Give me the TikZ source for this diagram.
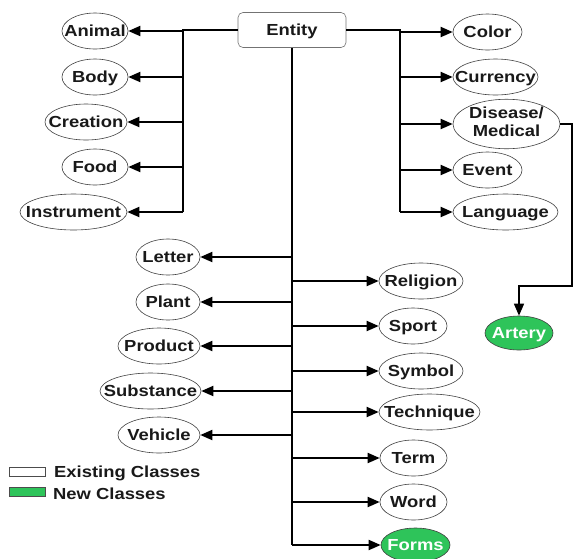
\documentclass[tikz,border=0pt]{standalone}
\usepackage{fontspec}
\setmainfont{Liberation Sans}[FakeStretch=1.15]
\usetikzlibrary{shapes.geometric,arrows.meta}
\definecolor{newgreen}{RGB}{46,196,90}
\newcommand\zt[1]{\makebox[0pt]{#1}}
\begin{document}
\begin{tikzpicture}[x=1pt,y=-1pt,
  ell/.style={ellipse, draw=black!75, line width=0.6pt, fill=white, inner sep=0pt, minimum height=36pt, font=\fontsize{16}{17}\selectfont\bfseries, text=black!90, text height=11.5pt, text depth=0pt},
  newell/.style={ell, fill=newgreen, text=white},
  conn/.style={line width=1.8pt, black},
  arr/.style={conn, -{Triangle[length=12pt,width=10pt]}},
  lbl/.style={font=\fontsize{16}{17}\selectfont\bfseries, text=black!90, anchor=west, inner sep=0pt}]
\useasboundingbox (0,0) rectangle (574,558);
% root
\node[draw=black!55, line width=0.6pt, rounded corners=5pt, minimum width=108pt, minimum height=35pt, inner sep=0pt, font=\fontsize{16}{17}\selectfont\bfseries, text=black!90, text height=11.5pt, text depth=0pt] (entity) at (292,30) {Entity};
% top left
\node[ell, minimum width=66pt] (animal) at (95,31) {\zt{Animal}};
\node[ell, minimum width=66pt] (body) at (95,77) {\zt{Body}};
\node[ell, minimum width=82pt] (creation) at (86,122) {\zt{Creation}};
\node[ell, minimum width=66pt] (food) at (95,167) {\zt{Food}};
\node[ell, minimum width=107pt] (instrument) at (73.5,212) {\zt{Instrument}};
% top right
\node[ell, minimum width=69pt] (color) at (487.5,32) {\zt{Color}};
\node[ell, minimum width=85pt] (currency) at (495.5,77) {\zt{Currency}};
\node[ell, minimum width=107pt, minimum height=48pt, text height=, text depth=] (disease) at (506.5,124) {\zt{\begin{tabular}{@{}c@{}}Disease/\\[1pt]Medical\end{tabular}}};
\node[ell, minimum width=69pt] (event) at (487.5,170) {\zt{Event}};
\node[ell, minimum width=105pt] (language) at (505.5,212) {\zt{Language}};
% lower left
\node[ell, minimum width=64pt] (letter) at (168,257) {\zt{Letter}};
\node[ell, minimum width=64pt] (plant) at (168,302) {\zt{Plant}};
\node[ell, minimum width=82pt] (product) at (159,346) {\zt{Product}};
\node[ell, minimum width=101pt] (substance) at (150.5,391) {\zt{Substance}};
\node[ell, minimum width=82pt] (vehicle) at (159,435) {\zt{Vehicle}};
% lower right
\node[ell, minimum width=84pt] (religion) at (421,281) {\zt{Religion}};
\node[ell, minimum width=68pt] (sport) at (413,326) {\zt{Sport}};
\node[ell, minimum width=84pt] (symbol) at (421,371) {\zt{Symbol}};
\node[ell, minimum width=101pt] (technique) at (429.5,412) {\zt{Technique}};
\node[ell, minimum width=67pt] (term) at (413.5,458) {\zt{Term}};
\node[ell, minimum width=67pt] (word) at (413.5,502) {\zt{Word}};
\node[newell, minimum width=69pt, minimum height=34pt] (forms) at (415.5,545) {\zt{Forms}};
\node[newell, minimum width=68pt, minimum height=34pt] (artery) at (519,333) {\zt{Artery}};
% buses
\coordinate (lb) at (183,30);
\coordinate (lbe) at (183,212);
\coordinate (rb) at (400,30);
\coordinate (rbe) at (400,212);
\coordinate (tb) at (292,545);
\draw[conn] (entity.west) -- (lb) -- (lbe);
\draw[conn] (entity.east) -- (rb) -- (rbe);
\draw[conn] (entity.south) -- (tb);
\foreach \n in {animal,body,creation,food,instrument}
  \draw[arr] (lb |- \n) -- (\n.east);
\foreach \n in {color,currency,disease,event,language}
  \draw[arr] (rb |- \n) -- (\n.west);
\foreach \n in {letter,plant,product,substance,vehicle}
  \draw[arr] (tb |- \n) -- (\n.east);
\foreach \n in {religion,sport,symbol,technique,term,word,forms}
  \draw[arr] (tb |- \n) -- (\n.west);
% disease -> artery
\coordinate (dc) at (572,286);
\draw[arr, line width=1.4pt] (disease.east) -| (dc) -| (artery.north);
% legend
\node[draw=black!70, line width=0.6pt, fill=white, minimum width=36pt, minimum height=9pt, inner sep=0pt] (legold) at (27,471.5) {};
\node[draw=black!70, line width=0.6pt, fill=newgreen, minimum width=36pt, minimum height=9pt, inner sep=0pt] (legnew) at (27,492) {};
\node[lbl] (legoldt) at (54,473) {Existing Classes};
\node[lbl] (legnewt) at (53,494) {New Classes};
\end{tikzpicture}
\end{document}
